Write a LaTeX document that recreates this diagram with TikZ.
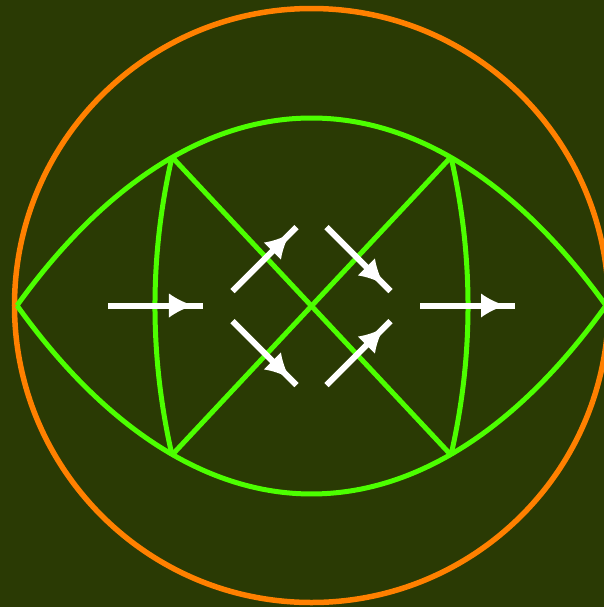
\documentclass[tikz,border=0pt]{standalone}
\usetikzlibrary{decorations.markings}
\definecolor{bg}{RGB}{42,58,4}
\definecolor{lensgreen}{RGB}{76,255,0}
\definecolor{ringorange}{RGB}{255,128,0}
\begin{document}
\begin{tikzpicture}[x=0.5pt,y=-0.5pt,
  lens/.style={draw=lensgreen, line width=2.5pt},
  ring/.style={draw=ringorange, line width=2.75pt},
  flow/.style={draw=white, line width=3pt, postaction={decorate},
    decoration={markings, mark=at position -5.5pt with {
      \fill[white] (0.5pt,0) .. controls (-4pt,1.5pt) and (-8pt,3.4pt) .. (-11.5pt,6pt)
        -- (-11.5pt,-6pt) .. controls (-8pt,-3.4pt) and (-4pt,-1.5pt) .. (0.5pt,0) -- cycle;}}}
]
\useasboundingbox (0,0) rectangle (604,607);
\fill[bg] (0,0) rectangle (604,607);
\clip (0,0) rectangle (604,607);

% key points
\coordinate (O) at (311.5,305.5);
\coordinate (tipL) at (17,305.5);
\coordinate (tipR) at (606,305.5);
\coordinate (cTL) at (172,157);
\coordinate (cBL) at (172,455);
\coordinate (cTR) at (451,157);
\coordinate (cBR) at (451,455);

% orange ring
\draw[ring] (O) circle[radius=148.5pt];

% lens
\draw[lens] (tipL) .. controls (197,55.5) and (426,55.5) .. (tipR);
\draw[lens] (tipL) .. controls (197,556.8) and (426,556.8) .. (tipR);
% inner arcs
\draw[lens] (cTL) .. controls (149.3,256.3) and (149.3,355.7) .. (cBL);
\draw[lens] (cTR) .. controls (473.7,256.3) and (473.7,355.7) .. (cBR);
% diagonals
\draw[lens] (cTL) -- (cBR);
\draw[lens] (cTR) -- (cBL);

% arrows
\coordinate (hLs) at (108,305.5);
\coordinate (hLe) at (203,305.5);
\coordinate (hRs) at (420,305.5);
\coordinate (hRe) at (515,305.5);
\coordinate (ulS) at (232.5,291);
\coordinate (ulE) at (296.5,227);
\coordinate (urS) at (326.5,227);
\coordinate (urE) at (390.5,291);
\coordinate (llS) at (232.5,321);
\coordinate (llE) at (296.5,385);
\coordinate (lrS) at (326.5,385);
\coordinate (lrE) at (390.5,321);

\draw[flow] (hLs) -- (hLe);
\draw[flow] (hRs) -- (hRe);
\draw[flow] (ulS) -- (ulE);
\draw[flow] (urS) -- (urE);
\draw[flow] (llS) -- (llE);
\draw[flow] (lrS) -- (lrE);
\end{tikzpicture}
\end{document}
